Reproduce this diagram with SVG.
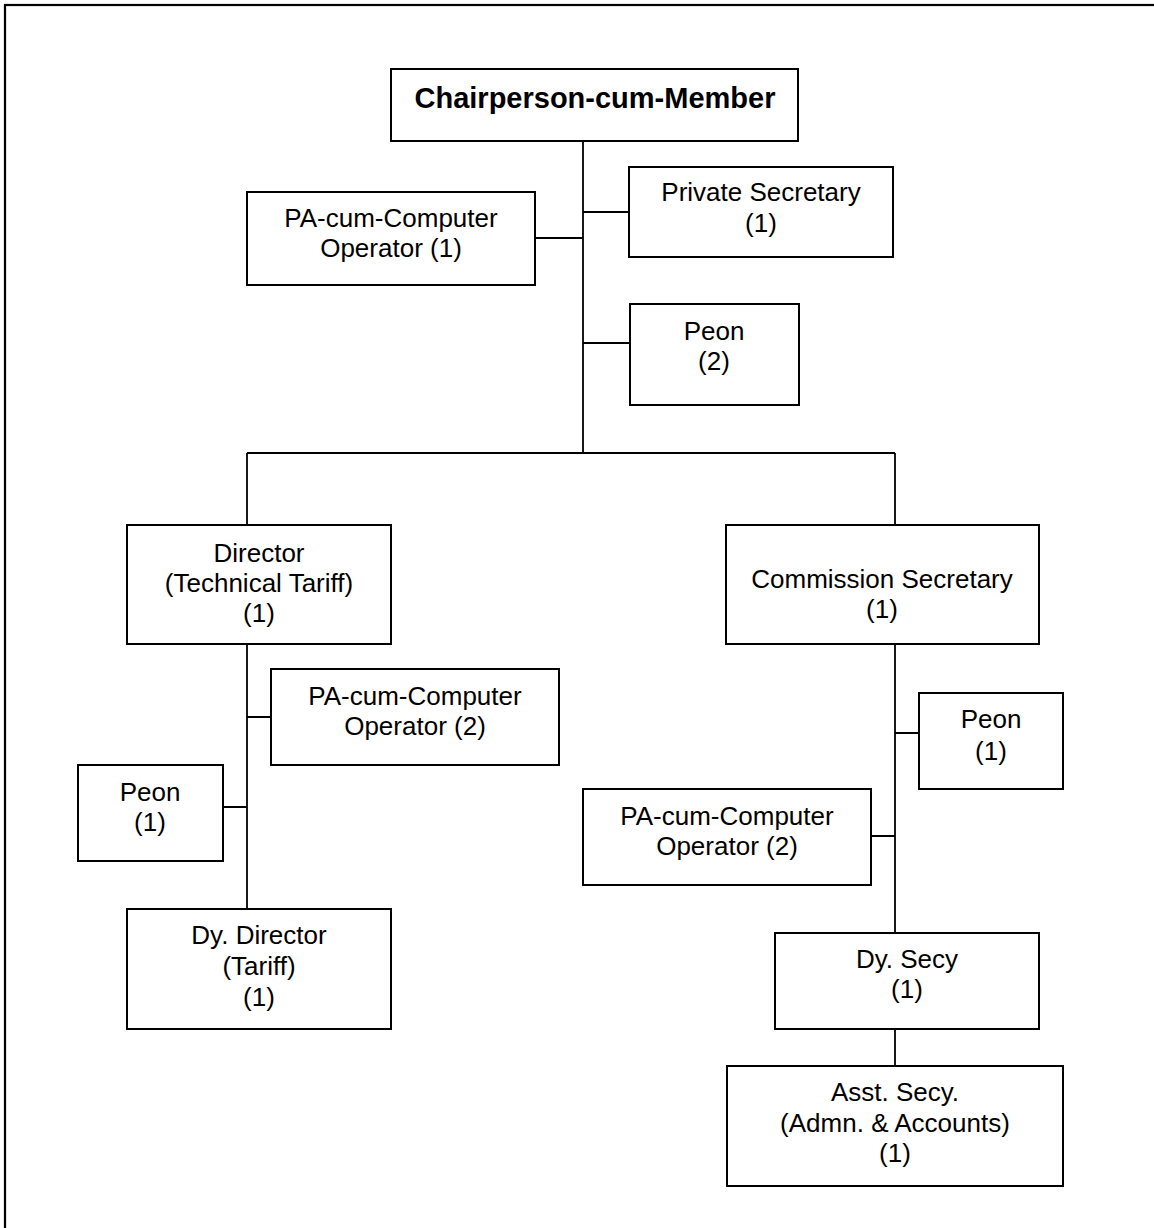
<svg xmlns="http://www.w3.org/2000/svg" width="1154" height="1228" viewBox="0 0 1154 1228">
<style>
.box{fill:#fff;stroke:#000;stroke-width:2}
.t{font-family:"Liberation Sans",Arial,sans-serif;font-size:26px;fill:#000;text-anchor:middle}
.b{font-weight:bold;font-size:29px}
.c{stroke:#000;stroke-width:1.8;fill:none}
</style>
<rect x="0" y="0" width="1154" height="1228" fill="#fff"/>
<rect x="5" y="5" width="1200" height="1300" fill="none" stroke="#000" stroke-width="2.2"/>
<g id="connectors">
<path class="c" d="M583,141V453M583,212H629M535,238H583M583,343H630M247,453H895M247,453V524M895,453V525"/>
<path class="c" d="M247,644V909M247,717H271M223,807H247"/>
<path class="c" d="M895,644V933M895,733H919M871,836H895M895,1029V1066"/>
</g>
<g id="chair"><rect class="box" x="391" y="69" width="407" height="72"/><text class="t b" x="595" y="108">Chairperson-cum-Member</text></g>
<g id="ps"><rect class="box" x="629" y="167" width="264" height="90"/><text class="t" x="761" y="201">Private Secretary</text><text class="t" x="761" y="232">(1)</text></g>
<g id="pa1"><rect class="box" x="247" y="192" width="288" height="93"/><text class="t" x="391" y="227">PA-cum-Computer</text><text class="t" x="391" y="257">Operator (1)</text></g>
<g id="peon2"><rect class="box" x="630" y="304" width="169" height="101"/><text class="t" x="714" y="340">Peon</text><text class="t" x="714" y="370">(2)</text></g>
<g id="director"><rect class="box" x="127" y="525" width="264" height="119"/><text class="t" x="259" y="562">Director</text><text class="t" x="259" y="592">(Technical Tariff)</text><text class="t" x="259" y="622">(1)</text></g>
<g id="commsec"><rect class="box" x="726" y="525" width="313" height="119"/><text class="t" x="882" y="588">Commission Secretary</text><text class="t" x="882" y="618">(1)</text></g>
<g id="pa2l"><rect class="box" x="271" y="669" width="288" height="96"/><text class="t" x="415" y="705">PA-cum-Computer</text><text class="t" x="415" y="735">Operator (2)</text></g>
<g id="peonl"><rect class="box" x="78" y="765" width="145" height="96"/><text class="t" x="150" y="801">Peon</text><text class="t" x="150" y="831">(1)</text></g>
<g id="dydir"><rect class="box" x="127" y="909" width="264" height="120"/><text class="t" x="259" y="944">Dy. Director</text><text class="t" x="259" y="975">(Tariff)</text><text class="t" x="259" y="1006">(1)</text></g>
<g id="peonr"><rect class="box" x="919" y="693" width="144" height="96"/><text class="t" x="991" y="728">Peon</text><text class="t" x="991" y="760">(1)</text></g>
<g id="pa2r"><rect class="box" x="583" y="789" width="288" height="96"/><text class="t" x="727" y="825">PA-cum-Computer</text><text class="t" x="727" y="855">Operator (2)</text></g>
<g id="dysecy"><rect class="box" x="775" y="933" width="264" height="96"/><text class="t" x="907" y="968">Dy. Secy</text><text class="t" x="907" y="998">(1)</text></g>
<g id="asst"><rect class="box" x="727" y="1066" width="336" height="120"/><text class="t" x="895" y="1101">Asst. Secy.</text><text class="t" x="895" y="1132">(Admn. &amp; Accounts)</text><text class="t" x="895" y="1162">(1)</text></g>
</svg>
